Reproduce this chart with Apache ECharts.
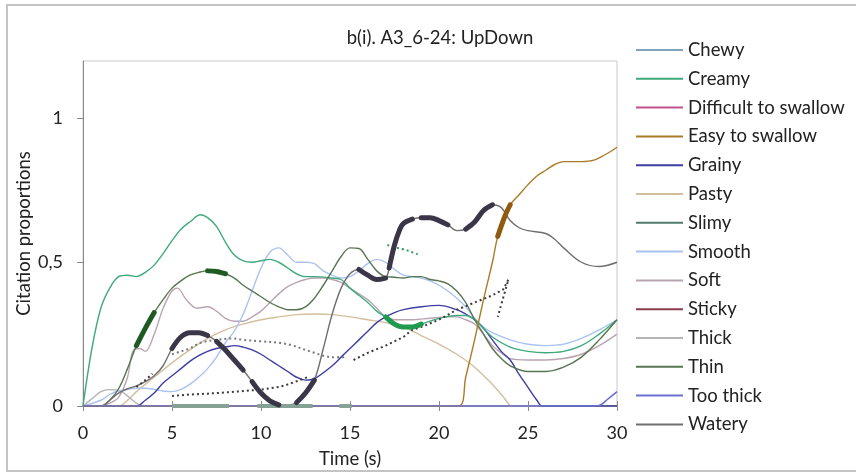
<!DOCTYPE html>
<html>
<head>
<meta charset="utf-8">
<script src="https://cdn.jsdelivr.net/npm/echarts@6/dist/echarts.min.js"></script>
<style>html,body{margin:0;background:#fff}#main{width:856px;height:474px}</style>
</head>
<body>
<div id="main"></div>
<script>
// citation proportions, [time (s), proportion]
var chewy = [[0,0],[30,0]];
var creamy = [[0,0],[0.5,0.2],[1,0.34],[1.5,0.41],[2,0.45],[2.5,0.455],[3,0.45],[3.5,0.465],[4,0.49],[4.5,0.53],[5,0.575],[5.5,0.615],[6,0.64],[6.6,0.665],[7,0.655],[7.5,0.625],[8,0.57],[8.5,0.525],[9,0.505],[9.5,0.5],[10,0.505],[10.5,0.51],[11,0.5],[11.5,0.48],[12,0.46],[12.5,0.45],[13,0.45],[14,0.445],[14.5,0.44],[15,0.41],[15.5,0.385],[16,0.36],[16.5,0.33],[17,0.31],[17.5,0.285],[18,0.275],[18.5,0.275],[19,0.285],[19.5,0.295],[20,0.305],[21,0.315],[21.5,0.315],[22,0.3],[22.5,0.27],[23,0.24],[24,0.205],[25,0.19],[26,0.185],[27,0.19],[28,0.21],[29,0.25],[30,0.3]];
var difficult = [[0,0],[30,0]];
var easy = [[0,0],[21.1,0],[21.5,0.1],[22,0.23],[22.5,0.37],[23,0.5],[23.3,0.59],[23.7,0.66],[24,0.7],[24.5,0.735],[25,0.77],[25.5,0.8],[26,0.82],[26.5,0.84],[27,0.85],[28,0.85],[28.7,0.855],[29.5,0.88],[30,0.9]];
var grainy = [[0,0],[3,0],[3.5,0.02],[4,0.045],[4.5,0.08],[5,0.105],[5.5,0.13],[6,0.155],[6.5,0.175],[7,0.19],[7.5,0.2],[8,0.205],[8.5,0.21],[9,0.205],[9.5,0.195],[10,0.18],[10.5,0.16],[11,0.14],[11.5,0.12],[12,0.1],[12.5,0.09],[13,0.095],[14,0.14],[14.5,0.17],[15,0.2],[15.5,0.23],[16,0.26],[16.5,0.29],[17,0.31],[17.5,0.325],[18,0.335],[19,0.345],[20,0.35],[21,0.335],[21.5,0.32],[22,0.3],[22.5,0.27],[23,0.23],[23.5,0.19],[24,0.16],[24.5,0.11],[25,0.065],[25.5,0.02],[25.8,0],[30,0]];
var pasty = [[0,0],[2,0],[2.5,0.02],[3,0.05],[4,0.1],[5,0.15],[6,0.195],[7,0.235],[8,0.265],[9,0.285],[10,0.3],[11,0.31],[12,0.318],[13,0.32],[14,0.318],[15,0.31],[16,0.3],[17,0.29],[18,0.275],[19,0.245],[20,0.215],[21,0.18],[22,0.135],[23,0.075],[23.5,0.04],[24,0]];
var slimy = [[0,0],[5,0],[8.2,0],[9.8,0],[12.9,0],[14.4,0],[15.1,0],[30,0]];
var smooth = [[0,0],[1,0.02],[1.5,0.04],[2,0.052],[3,0.062],[3.5,0.062],[4,0.058],[4.5,0.052],[5,0.05],[5.5,0.058],[6,0.075],[6.5,0.1],[7,0.13],[7.5,0.17],[8,0.22],[8.5,0.26],[9,0.32],[9.5,0.4],[10,0.48],[10.5,0.535],[11,0.55],[11.5,0.525],[12,0.5],[12.5,0.5],[13,0.495],[13.5,0.47],[14,0.455],[14.5,0.445],[15,0.45],[15.5,0.47],[16,0.495],[16.5,0.51],[17,0.5],[17.5,0.475],[18,0.455],[18.5,0.45],[19,0.445],[19.5,0.435],[20,0.42],[20.5,0.4],[21,0.375],[21.5,0.345],[22,0.305],[22.5,0.275],[23,0.255],[24,0.23],[25,0.215],[26,0.21],[27,0.215],[28,0.235],[29,0.265],[30,0.3]];
var soft = [[0,0],[1,0],[1.5,0.01],[2,0.03],[2.5,0.1],[2.8,0.19],[3.2,0.2],[3.5,0.19],[4,0.25],[4.5,0.34],[5,0.4],[5.3,0.41],[5.8,0.37],[6.4,0.34],[7,0.345],[7.5,0.33],[8,0.305],[8.5,0.295],[9,0.295],[9.5,0.31],[10,0.33],[10.5,0.36],[11,0.39],[11.5,0.415],[12,0.43],[12.5,0.44],[13,0.445],[13.5,0.445],[14,0.44],[14.5,0.43],[15,0.41],[15.5,0.39],[16,0.37],[16.5,0.34],[17,0.31],[17.5,0.3],[18.5,0.3],[19.5,0.305],[20.5,0.31],[21,0.31],[21.5,0.3],[22,0.285],[22.5,0.25],[23,0.21],[23.5,0.185],[24,0.165],[25,0.16],[26,0.16],[27,0.165],[28,0.18],[29,0.21],[30,0.25]];
var sticky = [[0,0],[30,0]];
var thick = [[0,0],[0.5,0.025],[1,0.05],[1.5,0.057],[2,0.055],[2.5,0.035],[3,0.01],[3.3,0],[30,0]];
var thin = [[0,0],[1,0],[1.5,0.02],[2,0.06],[2.5,0.13],[3,0.21],[3.5,0.27],[4,0.325],[4.5,0.37],[5,0.41],[5.5,0.435],[6,0.455],[6.5,0.465],[7,0.47],[7.5,0.468],[8,0.46],[8.5,0.445],[9,0.42],[9.5,0.4],[10,0.38],[10.5,0.36],[11,0.345],[11.5,0.335],[12,0.335],[12.5,0.345],[13,0.375],[13.5,0.42],[14,0.47],[14.5,0.52],[15,0.55],[15.5,0.548],[16,0.51],[16.5,0.47],[17,0.45],[17.5,0.448],[18,0.445],[18.5,0.45],[19,0.45],[19.5,0.44],[20,0.435],[20.5,0.425],[21,0.4],[21.5,0.36],[22,0.3],[22.5,0.25],[23,0.2],[23.5,0.165],[24,0.14],[25,0.12],[26,0.12],[27,0.135],[28,0.17],[29,0.23],[30,0.3]];
var tooThick = [[0,0],[28.9,0],[29.5,0.025],[30,0.05]];
var watery = [[0,0],[1,0],[1.5,0.02],[2,0.045],[2.5,0.06],[3,0.07],[3.5,0.085],[4,0.105],[4.5,0.14],[5,0.2],[5.5,0.24],[6,0.255],[6.5,0.255],[7,0.245],[7.5,0.225],[8,0.195],[8.5,0.16],[9,0.125],[9.5,0.085],[10,0.045],[10.5,0.018],[11,0.004],[11.5,0.003],[12,0.012],[12.5,0.045],[13,0.09],[13.5,0.2],[14,0.32],[14.5,0.41],[15,0.46],[15.5,0.475],[16,0.455],[16.5,0.44],[17,0.445],[17.2,0.48],[17.5,0.56],[17.8,0.615],[18,0.635],[18.5,0.65],[19,0.655],[19.5,0.655],[20,0.645],[20.5,0.63],[21,0.61],[21.5,0.615],[22,0.64],[22.5,0.68],[23,0.7],[23.5,0.69],[24,0.645],[24.5,0.62],[25,0.61],[26,0.6],[26.5,0.58],[27,0.55],[28,0.5],[29,0.485],[30,0.5]];

// significant stretches [from, to] (s)
var creamySig = [[17,19]];
var easySig = [[23.3,24]];
var slimySig = [[5,8.2],[9.8,12.9],[14.4,15.1]];
var thinSig = [[3,4],[7,8]];
var waterySig = [[5,7],[7.5,9],[9.5,11],[12,13],[15.5,17],[17.2,18.5],[19,20.5],[21.5,23]];

// significance / chance levels (dotted)
var levelA = [[[3,0.066],[3.5,0.09],[3.9,0.112]],
  [[5,0.035],[6,0.04],[7,0.043],[8,0.047],[9,0.052],[10,0.057],[11,0.066],[11.5,0.075],[12,0.086],[12.6,0.1]],
  [[15.2,0.16],[16,0.185],[17,0.21],[18,0.24],[18.5,0.265],[19,0.275],[20,0.3],[21,0.335],[22,0.36],[23,0.385],[23.6,0.405],[23.9,0.44],[23.3,0.31]]];
var levelB = [[5,0.18],[5.5,0.19],[6,0.2],[6.6,0.22],[7.5,0.23],[8.4,0.235],[9,0.23],[10,0.225],[11,0.22],[11.8,0.21],[12.5,0.195],[13,0.185],[13.5,0.175],[14,0.17],[14.8,0.17]];
var levelGreen = [[17.1,0.56],[17.5,0.552],[18,0.545],[18.5,0.535],[18.8,0.528]];

var names = ['Chewy','Creamy','Difficult to swallow','Easy to swallow','Grainy','Pasty','Slimy','Smooth','Soft','Sticky','Thick','Thin','Too thick','Watery'];
var yTicks = [0, 0.5, 1];

var FONT = 'Lato, "Liberation Sans", sans-serif';

function pick(data, ranges) {
  var out = [];
  ranges.forEach(function (r, i) {
    if (i) out.push([r[0], null]);
    data.forEach(function (p) { if (p[0] >= r[0] && p[0] <= r[1]) out.push(p); });
  });
  return out;
}
function joinSegs(segs) {
  var out = [];
  segs.forEach(function (s, i) {
    if (i) out.push([s[0][0], null]);
    out = out.concat(s);
  });
  return out;
}
function line(name, data, color, width, extra) {
  var s = {
    name: name, type: 'line', data: data, symbol: 'none', smooth: 0.35,
    color: color, lineStyle: {color: color, width: width || 1.4},
    emphasis: {disabled: true}, silent: true
  };
  for (var k in extra) s[k] = extra[k];
  return s;
}

var dom = document.getElementById('main');
var myChart = echarts.init(dom);
var option = {
  animation: false,
  backgroundColor: '#fff',
  textStyle: {fontFamily: FONT},
  title: {
    text: 'b(i). A3_6-24: UpDown', left: 435, top: 24, textAlign: 'center',
    textStyle: {fontSize: 18.5, fontWeight: 'normal', color: '#222', fontFamily: FONT}
  },
  graphic: [{
    type: 'rect', shape: {x: 7, y: 5, width: 860, height: 466},
    style: {fill: 'none', stroke: '#c4c4c4', lineWidth: 2}, silent: true
  }],
  legend: {
    data: names, orient: 'vertical', left: 631, top: 35,
    icon: 'rect', itemWidth: 47, itemHeight: 2, itemGap: 8.8,
    textStyle: {fontSize: 18.5, lineHeight: 20, color: '#222', fontFamily: FONT},
    selectedMode: false
  },
  grid: {left: 83, right: 239, top: 61, bottom: 68, show: true, borderColor: '#c8c8c8', borderWidth: 1},
  xAxis: [{
    type: 'value', min: 0, max: 30, interval: 5, position: 'bottom',
    name: 'Time (s)', nameLocation: 'middle', nameGap: 44, nameMoveOverlap: false,
    nameTextStyle: {fontSize: 18.5, color: '#222', fontFamily: FONT},
    axisLine: {lineStyle: {color: '#8a8a8a'}},
    axisTick: {length: 5, lineStyle: {color: '#8a8a8a'}},
    axisLabel: {fontSize: 18, color: '#222', margin: 18, fontFamily: FONT},
    splitLine: {show: false}
  }, {
    type: 'value', min: 0, max: 30, interval: 5, position: 'bottom',
    axisLine: {show: false}, axisLabel: {show: false}, splitLine: {show: false},
    axisTick: {inside: true, length: 5, lineStyle: {color: '#8a8a8a'}}
  }],
  yAxis: {
    type: 'value', min: 0, max: 1.2, interval: 0.5,
    name: 'Citation proportions', nameLocation: 'middle', nameGap: 49, nameMoveOverlap: false,
    nameTextStyle: {fontSize: 18.5, color: '#222', fontFamily: FONT},
    axisLine: {show: true, lineStyle: {color: '#8a8a8a'}},
    axisTick: {show: true, length: 6, customValues: yTicks, lineStyle: {color: '#8a8a8a'}},
    axisLabel: {
      fontSize: 18, color: '#222', margin: 20, customValues: yTicks, fontFamily: FONT,
      formatter: function (v) { return String(v).replace('.', ','); }
    },
    splitLine: {show: false}
  },
  series: [
    line('Chewy', chewy, '#7fa5bf'),
    line('Difficult to swallow', difficult, '#c2528c'),
    line('Sticky', sticky, '#8c3a4e'),
    line('Slimy', slimy, '#4f7c6c'),
    line('Pasty', pasty, '#d3bf9c'),
    line('Thick', thick, '#b4b4b4'),
    line('Soft', soft, '#bba4b2'),
    line('Smooth', smooth, '#a9c2f2'),
    line('Grainy', grainy, '#3d3da3'),
    line('Creamy', creamy, '#3eaa7c'),
    line('Thin', thin, '#56764f'),
    line('Watery', watery, '#6f6f6f'),
    line('Easy to swallow', easy, '#a97c28'),
    line('Too thick', tooThick, '#6b70d2', 1.6),
    line('levelA', joinSegs(levelA), '#3a3a3a', 2, {smooth: false, lineStyle: {color: '#3a3a3a', width: 2, type: [2, 3]}}),
    line('levelB', levelB, '#7a7a7a', 2, {lineStyle: {color: '#7a7a7a', width: 2, type: [2, 3]}}),
    line('levelGreen', levelGreen, '#2f9a5a', 2, {lineStyle: {color: '#2f9a5a', width: 2, type: [2, 3]}}),
    line('slimySig', pick(slimy, slimySig), '#86a294', 4, {smooth: false}),
    line('thinSig', pick(thin, thinSig), '#1f5a22', 5, {lineStyle: {color: '#1f5a22', width: 5, cap: 'round'}}),
    line('creamySig', pick(creamy, creamySig), '#1f9a4f', 5, {lineStyle: {color: '#1f9a4f', width: 5, cap: 'round'}}),
    line('waterySig', pick(watery, waterySig), '#3b3548', 5, {lineStyle: {color: '#3b3548', width: 5, cap: 'round'}}),
    line('easySig', pick(easy, easySig), '#8f5a10', 5, {lineStyle: {color: '#8f5a10', width: 5, cap: 'round'}})
  ]
};
if (option && typeof option === "object") {
  myChart.setOption(option, true);
}
</script>
</body>
</html>
